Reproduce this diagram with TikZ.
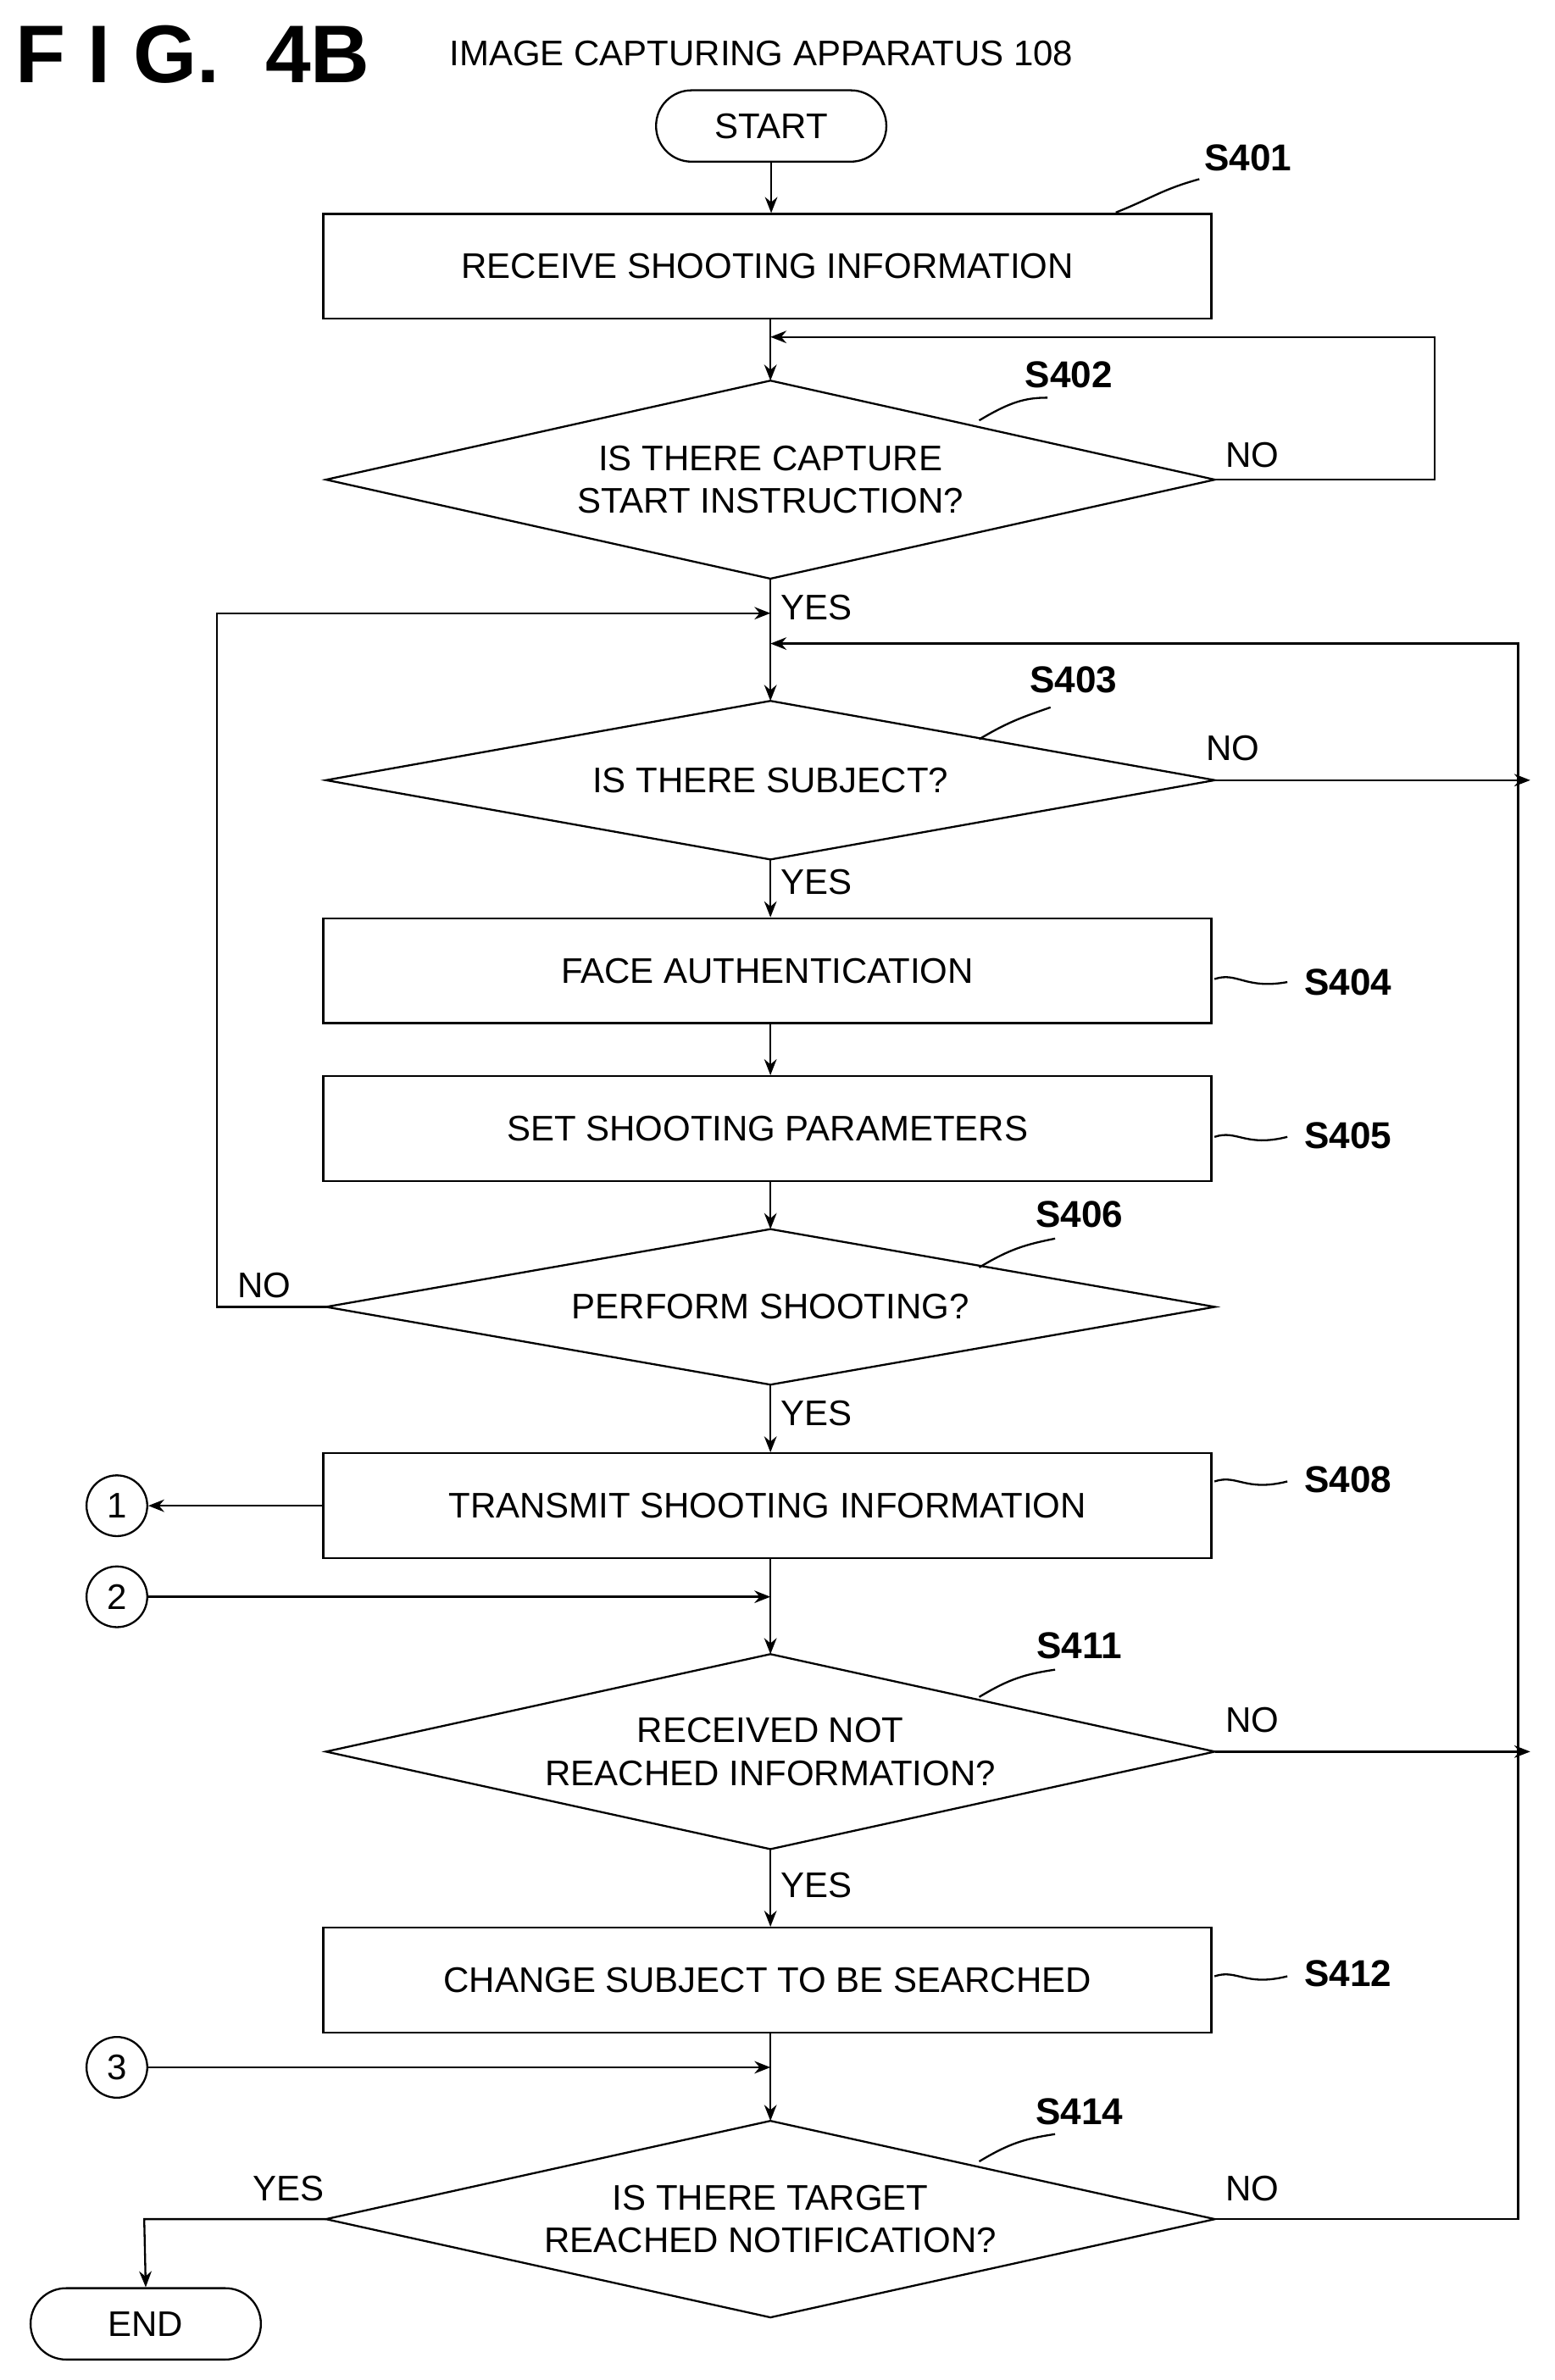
\documentclass[tikz,border=0pt]{standalone}
\usepackage{fontspec}
\setmainfont{Liberation Sans}
\usetikzlibrary{shapes.geometric,arrows.meta}
\begin{document}
\begin{tikzpicture}[x=0.03cm,y=-0.03cm,
  every node/.style={font=\fontsize{20}{24}\selectfont},
  ln/.style={line width=1.1pt},
  arr/.style={ln,-{Stealth[length=9pt,width=7pt]}},
  box/.style={draw,ln,rectangle,minimum width=17.55cm,minimum height=2.07cm,inner sep=0},
  dia/.style={rectangle,minimum width=17.55cm,inner sep=0,align=center},
  term/.style={draw,ln,rounded corners=0.7cm,minimum width=4.55cm,minimum height=1.41cm},
  circ/.style={draw,ln,circle,minimum size=1.2cm,inner sep=0},
  lab/.style={font=\fontsize{21}{24}\selectfont\bfseries},
  sq/.style={ln}]
\useasboundingbox (0,0) rectangle (1024,1568);
\node[anchor=west,font=\fontsize{46}{50}\selectfont\bfseries] (fig) at (6,36) {F I G.\ \ 4B};
\node[anchor=west] (app) at (292,35) {IMAGE CAPTURING APPARATUS 108};
\node[term] (start) at (508,83) {START};
\node[box] (s401) at (505.5,175.5) {RECEIVE SHOOTING INFORMATION};
\node[dia,minimum height=3.9cm] (s402) at (507.5,316) {IS THERE CAPTURE\\START INSTRUCTION?};
\node[dia,minimum height=3.12cm] (s403) at (507.5,514) {IS THERE SUBJECT?};
\node[box] (s404) at (505.5,639.5) {FACE AUTHENTICATION};
\node[box] (s405) at (505.5,743.5) {SET SHOOTING PARAMETERS};
\node[dia,minimum height=3.06cm] (s406) at (507.5,861) {PERFORM SHOOTING?};
\node[box] (s408) at (505.5,992) {TRANSMIT SHOOTING INFORMATION};
\node[dia,minimum height=3.84cm] (s411) at (507.5,1154) {RECEIVED NOT\\REACHED INFORMATION?};
\node[box] (s412) at (505.5,1304.5) {CHANGE SUBJECT TO BE SEARCHED};
\node[dia,minimum height=3.87cm] (s414) at (507.5,1462) {IS THERE TARGET\\REACHED NOTIFICATION?};
\foreach \d in {s402,s403,s406,s411,s414}
  \draw[ln] (\d.north) -- (\d.east) -- (\d.south) -- (\d.west) -- cycle;
\node[term] (end) at (96,1531) {END};
\node[circ] (c1) at (77,992) {1};
\node[circ] (c2) at (77,1052) {2};
\node[circ] (c3) at (77,1362) {3};
% step labels
\node[lab] (l401) at (822,104) {S401};
\node[lab] (l402) at (704,247) {S402};
\node[lab] (l403) at (707,448) {S403};
\node[lab] (l404) at (888,647) {S404};
\node[lab] (l405) at (888,748) {S405};
\node[lab] (l406) at (711,800) {S406};
\node[lab] (l408) at (888,975) {S408};
\node[lab] (l411) at (711,1084) {S411};
\node[lab] (l412) at (888,1300) {S412};
\node[lab] (l414) at (711,1391) {S414};
\draw[sq] (735,140) .. controls (760,130) and (765,125) .. (790,118);
\draw[sq] (645,277) .. controls (665,265) and (675,262) .. (690,262);
\draw[sq] (645,487) .. controls (665,475) and (675,472) .. (692,466);
\draw[sq] (800,645) .. controls (815,640) and (820,652) .. (848,647);
\draw[sq] (800,749) .. controls (815,744) and (820,756) .. (848,749);
\draw[sq] (645,835) .. controls (665,823) and (675,820) .. (695,816);
\draw[sq] (800,976) .. controls (815,971) and (820,983) .. (848,976);
\draw[sq] (645,1118) .. controls (665,1106) and (675,1103) .. (695,1100);
\draw[sq] (800,1302) .. controls (815,1297) and (820,1309) .. (848,1302);
\draw[sq] (645,1424) .. controls (665,1412) and (675,1409) .. (695,1406);
% flow labels
\node (n402) at (825,300) {NO};
\node (y402) at (538,400) {YES};
\node (n403) at (812,493) {NO};
\node (y403) at (538,581) {YES};
\node (n406) at (174,847) {NO};
\node (y406) at (538,931) {YES};
\node (n411) at (825,1133) {NO};
\node (y411) at (538,1242) {YES};
\node (n414) at (825,1442) {NO};
\node (y414) at (190,1442) {YES};
% connectors
\coordinate (j1) at (507.5,222);
\coordinate (j2) at (507.5,404);
\coordinate (j3) at (507.5,424);
\coordinate (j4) at (507.5,1052);
\coordinate (j5) at (507.5,1362);
\draw[arr] (start) -- (start|-s401.north);
\draw[arr] (s401.south-|s402.north) -- (s402.north);
\draw[arr] (s402.east) -- (945,316) -- (945,222) -- (j1);
\draw[arr] (s402.south) -- (s403.north);
\draw[arr] (s406.west) -- (143,861) -- (143,404) -- (j2);
\draw[arr] (s414.east) -- (1000,1462) -- (1000,424) -- (j3);
\draw[arr] (s403.east) -- (1008,514);
\draw[arr] (s403.south) -- (s403.south|-s404.north);
\draw[arr] (s404.south-|s403.south) -- (s403.south|-s405.north);
\draw[arr] (s405.south-|s406.north) -- (s406.north);
\draw[arr] (s406.south) -- (s406.south|-s408.north);
\draw[arr] (s408.west) -- (c1);
\draw[arr] (c2) -- (j4);
\draw[arr] (s408.south-|s411.north) -- (s411.north);
\draw[arr] (s411.east) -- (1008,1154);
\draw[arr] (s411.south) -- (s411.south|-s412.north);
\draw[arr] (c3) -- (j5);
\draw[arr] (s412.south-|s414.north) -- (s414.north);
\draw[arr] (s414.west) -- (95,1462) -- (end.north);
\end{tikzpicture}
\end{document}
